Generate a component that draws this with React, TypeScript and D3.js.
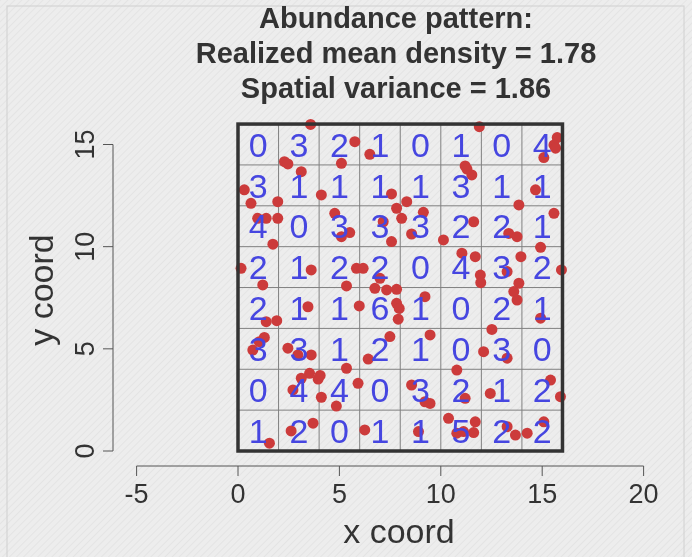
import * as d3 from 'd3';

// Cell counts, top row (y 14-16) first, left to right (x 0-2 ... 14-16)
const countRows = [
  [0, 3, 2, 1, 0, 1, 0, 4],
  [3, 1, 1, 1, 1, 3, 1, 1],
  [4, 0, 3, 3, 3, 2, 2, 1],
  [2, 1, 2, 2, 0, 4, 3, 2],
  [2, 1, 1, 6, 1, 0, 2, 1],
  [3, 3, 1, 2, 1, 0, 3, 0],
  [0, 4, 4, 0, 3, 2, 1, 2],
  [1, 2, 0, 1, 1, 5, 2, 2],
];

// Individual locations (x, y)
const points: [number, number][] = [
  [3.58, 15.98], [2.29, 14.16], [2.46, 14.05], [5.76, 15.14], [5.1, 14.08], [6.5, 14.52],
  [11.9, 15.87], [15.74, 15.34], [15.58, 14.98], [15.66, 14.82], [15.08, 14.36],
  [0.31, 12.78], [1.96, 12.2], [0.64, 12.12], [3.12, 13.67], [4.11, 12.53], [7.57, 12.58],
  [8.32, 12.2], [11.2, 13.95], [11.53, 13.51], [11.29, 13.8], [13.85, 12.04], [14.67, 12.78],
  [0.97, 11.39], [1.39, 11.39], [1.96, 11.39], [1.72, 10.12], [4.77, 11.63], [5.1, 10.49],
  [5.51, 10.69], [7.82, 11.88], [7.16, 11.22], [7.57, 10.25], [8.07, 11.39], [9.14, 11.68],
  [8.56, 10.62], [10.13, 10.33], [11.62, 11.22], [13.35, 10.65], [13.76, 10.49], [15.58, 11.63],
  [0.15, 8.94], [1.22, 8.13], [3.61, 8.86], [5.84, 8.94], [5.35, 8.08], [6.17, 8.94],
  [7.0, 8.45], [11.04, 9.68], [11.7, 9.51], [11.95, 8.61], [11.97, 8.24], [13.27, 8.78],
  [13.85, 8.21], [13.95, 9.51], [14.92, 9.97], [15.95, 8.86],
  [1.39, 6.33], [1.91, 6.38], [3.45, 7.06], [5.98, 7.1], [6.75, 7.96], [7.33, 7.88],
  [7.82, 7.91], [7.82, 7.23], [7.95, 6.98], [7.9, 6.45], [9.22, 7.55], [13.6, 7.8],
  [13.76, 7.39], [14.92, 6.5],
  [1.3, 5.56], [0.73, 4.94], [1.05, 5.35], [2.46, 5.03], [2.95, 4.7], [3.61, 4.7],
  [5.35, 4.05], [7.49, 5.6], [6.42, 4.5], [9.47, 5.68], [12.52, 5.95], [12.11, 4.86],
  [13.27, 4.54],
  [3.53, 3.8], [3.95, 3.52], [3.12, 3.56], [2.71, 2.99], [4.11, 2.63], [5.92, 3.31],
  [4.85, 2.2], [4.05, 3.7], [8.56, 3.23], [9.22, 2.41], [9.47, 2.33], [10.79, 3.96],
  [11.2, 2.58], [12.44, 2.82], [15.41, 3.47], [15.9, 2.66],
  [1.55, 0.38], [3.7, 1.36], [2.62, 0.98], [6.25, 1.03], [8.9, 0.95], [10.38, 1.6],
  [10.79, 0.87], [11.12, 0.95], [11.62, 0.9], [11.7, 1.43], [13.27, 1.19], [13.68, 0.78],
  [14.26, 0.87], [15.08, 1.43],
];

const xTicks = [-5, 0, 5, 10, 15, 20];
const yTicks = [0, 5, 10, 15];
const gridBreaks = [0, 2, 4, 6, 8, 10, 12, 14, 16];
const titleLines = [
  'Abundance pattern:',
  'Realized mean density = 1.78',
  'Spatial variance = 1.86',
];

const W = 692;
const H = 557;
const font = 'Liberation Sans, Arial, Helvetica, sans-serif';

export default function App() {
  const x = d3.scaleLinear().domain([-5, 20]).range([136.6, 643.6]);
  const y = d3.scaleLinear().domain([0, 15]).range([451, 144.5]);
  const nRows = countRows.length;

  return (
    <div style={{ position: 'fixed', left: 0, top: 0 }}>
      <svg width={W} height={H} style={{ display: 'block' }}>
        <defs>
          <pattern id="hatch" width="5" height="5" patternUnits="userSpaceOnUse" patternTransform="rotate(45)">
            <rect width="5" height="5" fill="#ededed" />
            <line x1="0" y1="0" x2="0" y2="5" stroke="#e2e2e2" strokeWidth="1.5" />
          </pattern>
        </defs>
        <rect width={W} height={H} fill="url(#hatch)" />
        <rect x={7} y={6} width={677} height={H} fill="none" stroke="#d0d0d0" strokeWidth={1} />

        {/* title */}
        {titleLines.map((t, i) => (
          <text key={t} x={396} y={28 + i * 35} textAnchor="middle" fontFamily={font}
            fontWeight="bold" fontSize={29} fill="#333">{t}</text>
        ))}

        {/* grid lines */}
        {gridBreaks.map(b => (
          <g key={'g' + b}>
            <line x1={x(b)} x2={x(b)} y1={y(0)} y2={y(16)} stroke="#808080" strokeWidth={1} />
            <line x1={x(0)} x2={x(16)} y1={y(b)} y2={y(b)} stroke="#808080" strokeWidth={1} />
          </g>
        ))}

        {/* points */}
        {points.map(([px, py], i) => (
          <circle key={i} cx={x(px)} cy={y(py)} r={5.5} fill="#cc3b3b" />
        ))}

        {/* counts */}
        {countRows.map((row, ri) =>
          row.map((c, ci) => (
            <text key={ri + '-' + ci} x={x(ci * 2 + 1)} y={y((nRows - 1 - ri) * 2 + 1)}
              dy="0.36em" textAnchor="middle" fontFamily={font} fontSize={34}
              fill="#4646e0">{c}</text>
          ))
        )}

        {/* outer box */}
        <rect x={x(0)} y={y(16)} width={x(16) - x(0)} height={y(0) - y(16)}
          fill="none" stroke="#333" strokeWidth={3.5} />

        {/* x axis */}
        <g stroke="#555" strokeWidth={1}>
          <line x1={x(-5)} x2={x(20)} y1={466} y2={466} />
          {xTicks.map(t => (
            <line key={t} x1={x(t)} x2={x(t)} y1={466} y2={476} />
          ))}
        </g>
        {xTicks.map(t => (
          <text key={'xt' + t} x={x(t)} y={503} textAnchor="middle" fontFamily={font}
            fontSize={27} fill="#333">{t}</text>
        ))}
        <text x={399} y={543} textAnchor="middle" fontFamily={font} fontSize={34} fill="#333">x coord</text>

        {/* y axis */}
        <g stroke="#555" strokeWidth={1}>
          <line x1={113} x2={113} y1={y(0)} y2={y(15)} />
          {yTicks.map(t => (
            <line key={t} x1={103} x2={113} y1={y(t)} y2={y(t)} />
          ))}
        </g>
        {yTicks.map(t => (
          <text key={'yt' + t} transform={`translate(94,${y(t)}) rotate(-90)`} textAnchor="middle"
            fontFamily={font} fontSize={27} fill="#333">{t}</text>
        ))}
        <text transform="translate(53,290) rotate(-90)" textAnchor="middle" fontFamily={font}
          fontSize={34} fill="#333">y coord</text>
      </svg>
    </div>
  );
}
